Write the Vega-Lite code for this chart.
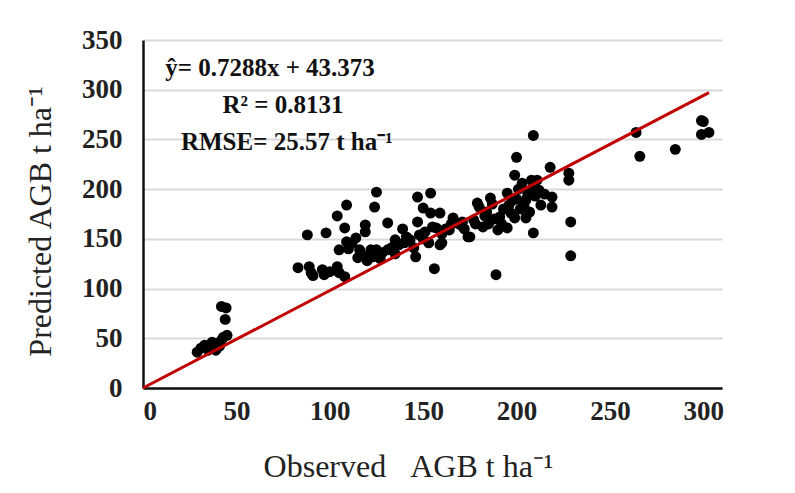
{
  "$schema": "https://vega.github.io/schema/vega-lite/v6.json",
  "autosize": {"type": "none"},
  "padding": {"left": 143, "top": 40, "right": 73, "bottom": 105},
  "width": 579,
  "height": 348,
  "background": "white",
  "config": {"view": {"stroke": null}, "font": "Liberation Serif"},
  "datasets": {
    "pts": [
      {"obs": 29, "pred": 36}, {"obs": 33, "pred": 43}, {"obs": 35, "pred": 38}, {"obs": 37, "pred": 46},
      {"obs": 39, "pred": 38}, {"obs": 40, "pred": 45}, {"obs": 42, "pred": 48}, {"obs": 43, "pred": 51},
      {"obs": 41, "pred": 42}, {"obs": 36, "pred": 41}, {"obs": 42, "pred": 82}, {"obs": 44.5, "pred": 80.5},
      {"obs": 44, "pred": 69}, {"obs": 45, "pred": 53}, {"obs": 31, "pred": 40}, {"obs": 38, "pred": 44},
      {"obs": 83, "pred": 121}, {"obs": 89, "pred": 122}, {"obs": 90, "pred": 116}, {"obs": 91, "pred": 113},
      {"obs": 96, "pred": 119}, {"obs": 97, "pred": 114}, {"obs": 100, "pred": 117}, {"obs": 104, "pred": 122},
      {"obs": 105, "pred": 116}, {"obs": 108, "pred": 112}, {"obs": 88, "pred": 154}, {"obs": 98, "pred": 156},
      {"obs": 104, "pred": 173}, {"obs": 109, "pred": 184}, {"obs": 108, "pred": 161}, {"obs": 109, "pred": 147},
      {"obs": 105, "pred": 139}, {"obs": 114, "pred": 151}, {"obs": 119, "pred": 164}, {"obs": 119, "pred": 157},
      {"obs": 116, "pred": 139}, {"obs": 115, "pred": 131}, {"obs": 122, "pred": 139}, {"obs": 124, "pred": 134},
      {"obs": 125, "pred": 197}, {"obs": 124, "pred": 182}, {"obs": 131, "pred": 166}, {"obs": 139, "pred": 160},
      {"obs": 147, "pred": 192}, {"obs": 154, "pred": 196}, {"obs": 150, "pred": 181}, {"obs": 159, "pred": 176},
      {"obs": 154, "pred": 176}, {"obs": 147, "pred": 167}, {"obs": 166, "pred": 171}, {"obs": 170, "pred": 164},
      {"obs": 174, "pred": 152}, {"obs": 155, "pred": 162}, {"obs": 146, "pred": 132}, {"obs": 156, "pred": 120},
      {"obs": 153, "pred": 146}, {"obs": 159, "pred": 144}, {"obs": 135, "pred": 149}, {"obs": 125, "pred": 139},
      {"obs": 123, "pred": 132}, {"obs": 131, "pred": 139}, {"obs": 143, "pred": 149}, {"obs": 148, "pred": 154},
      {"obs": 151, "pred": 157}, {"obs": 157, "pred": 161}, {"obs": 110, "pred": 140}, {"obs": 112, "pred": 146},
      {"obs": 118, "pred": 133}, {"obs": 128, "pred": 136}, {"obs": 133, "pred": 141}, {"obs": 137, "pred": 144},
      {"obs": 140, "pred": 146}, {"obs": 145, "pred": 141}, {"obs": 150, "pred": 150}, {"obs": 162, "pred": 160},
      {"obs": 165, "pred": 165}, {"obs": 135, "pred": 135}, {"obs": 120, "pred": 128}, {"obs": 127, "pred": 130},
      {"obs": 141, "pred": 152}, {"obs": 160, "pred": 155},
      {"obs": 160, "pred": 146}, {"obs": 164, "pred": 159}, {"obs": 168, "pred": 166}, {"obs": 175, "pred": 152},
      {"obs": 171, "pred": 167}, {"obs": 177, "pred": 169}, {"obs": 179, "pred": 186}, {"obs": 180, "pred": 182},
      {"obs": 186, "pred": 191}, {"obs": 184, "pred": 177}, {"obs": 182, "pred": 162}, {"obs": 190, "pred": 159},
      {"obs": 195, "pred": 161}, {"obs": 191, "pred": 172}, {"obs": 189, "pred": 114}, {"obs": 187, "pred": 185},
      {"obs": 193, "pred": 180}, {"obs": 200, "pred": 232}, {"obs": 199, "pred": 214}, {"obs": 203, "pred": 206},
      {"obs": 208, "pred": 209}, {"obs": 195, "pred": 196}, {"obs": 198, "pred": 189}, {"obs": 205, "pred": 189},
      {"obs": 197, "pred": 176}, {"obs": 205, "pred": 171}, {"obs": 199, "pred": 171}, {"obs": 209, "pred": 156},
      {"obs": 209, "pred": 254}, {"obs": 218, "pred": 222}, {"obs": 228, "pred": 216}, {"obs": 228, "pred": 209},
      {"obs": 211, "pred": 209}, {"obs": 212, "pred": 199}, {"obs": 209, "pred": 202}, {"obs": 219, "pred": 192},
      {"obs": 213, "pred": 184}, {"obs": 219, "pred": 182}, {"obs": 229, "pred": 167}, {"obs": 229, "pred": 133},
      {"obs": 202, "pred": 180}, {"obs": 206, "pred": 195}, {"obs": 201, "pred": 200}, {"obs": 204, "pred": 183},
      {"obs": 196, "pred": 184}, {"obs": 210, "pred": 193}, {"obs": 207, "pred": 177}, {"obs": 185, "pred": 165},
      {"obs": 188, "pred": 170}, {"obs": 192, "pred": 165}, {"obs": 183, "pred": 173}, {"obs": 178, "pred": 165},
      {"obs": 172, "pred": 160}, {"obs": 200, "pred": 190}, {"obs": 215, "pred": 195},
      {"obs": 264, "pred": 257}, {"obs": 266, "pred": 233}, {"obs": 285, "pred": 240}, {"obs": 299, "pred": 269},
      {"obs": 300, "pred": 268}, {"obs": 299, "pred": 255}, {"obs": 303, "pred": 257}
    ],
    "line": [{"obs": 0, "pred": 0}, {"obs": 303, "pred": 297}],
    "labels": [
      {"obs": 68, "pred": 322, "t": "ŷ= 0.7288x + 43.373"},
      {"obs": 75, "pred": 285, "t": "R² = 0.8131"},
      {"obs": 77, "pred": 247.5, "t": "RMSE= 25.57 t ha⁻¹"}
    ]
  },
  "encoding": {
    "x": {
      "field": "obs", "type": "quantitative",
      "scale": {"domain": [0, 310], "nice": false, "zero": false},
      "axis": {
        "values": [0, 50, 100, 150, 200, 250, 300],
        "title": "Observed\u00a0\u00a0\u00a0AGB t ha⁻¹",
        "titleFont": "Liberation Serif", "titleFontSize": 32, "titleFontWeight": "normal", "titleColor": "#222",
        "titleX": 265, "titleY": 78, "titleBaseline": "middle",
        "labelFont": "Liberation Serif", "labelFontSize": 27, "labelFontWeight": "bold", "labelColor": "#222",
        "labelPadding": 10, "ticks": false, "grid": false,
        "domainColor": "#111", "domainWidth": 2.5
      }
    },
    "y": {
      "field": "pred", "type": "quantitative",
      "scale": {"domain": [0, 350], "nice": false},
      "axis": {
        "values": [0, 50, 100, 150, 200, 250, 300, 350],
        "title": "Predicted AGB t ha⁻¹",
        "titleFont": "Liberation Serif", "titleFontSize": 32, "titleFontWeight": "normal", "titleColor": "#222",
        "titleX": -103, "titleY": 181, "titleBaseline": "middle",
        "labelFont": "Liberation Serif", "labelFontSize": 27, "labelFontWeight": "bold", "labelColor": "#222",
        "labelPadding": 21, "ticks": false,
        "grid": true, "gridColor": "#d9d9d9", "gridWidth": 2,
        "domainColor": "#111", "domainWidth": 2.5
      }
    }
  },
  "layer": [
    {
      "data": {"name": "pts"},
      "mark": {"type": "circle", "size": 120, "color": "black", "opacity": 1}
    },
    {
      "data": {"name": "line"},
      "mark": {"type": "line", "color": "#c00000", "strokeWidth": 3}
    },
    {
      "data": {"name": "labels"},
      "mark": {"type": "text", "font": "Liberation Serif", "fontSize": 25, "fontWeight": "bold", "color": "#111", "align": "center", "baseline": "middle"},
      "encoding": {"text": {"field": "t"}}
    }
  ]
}
